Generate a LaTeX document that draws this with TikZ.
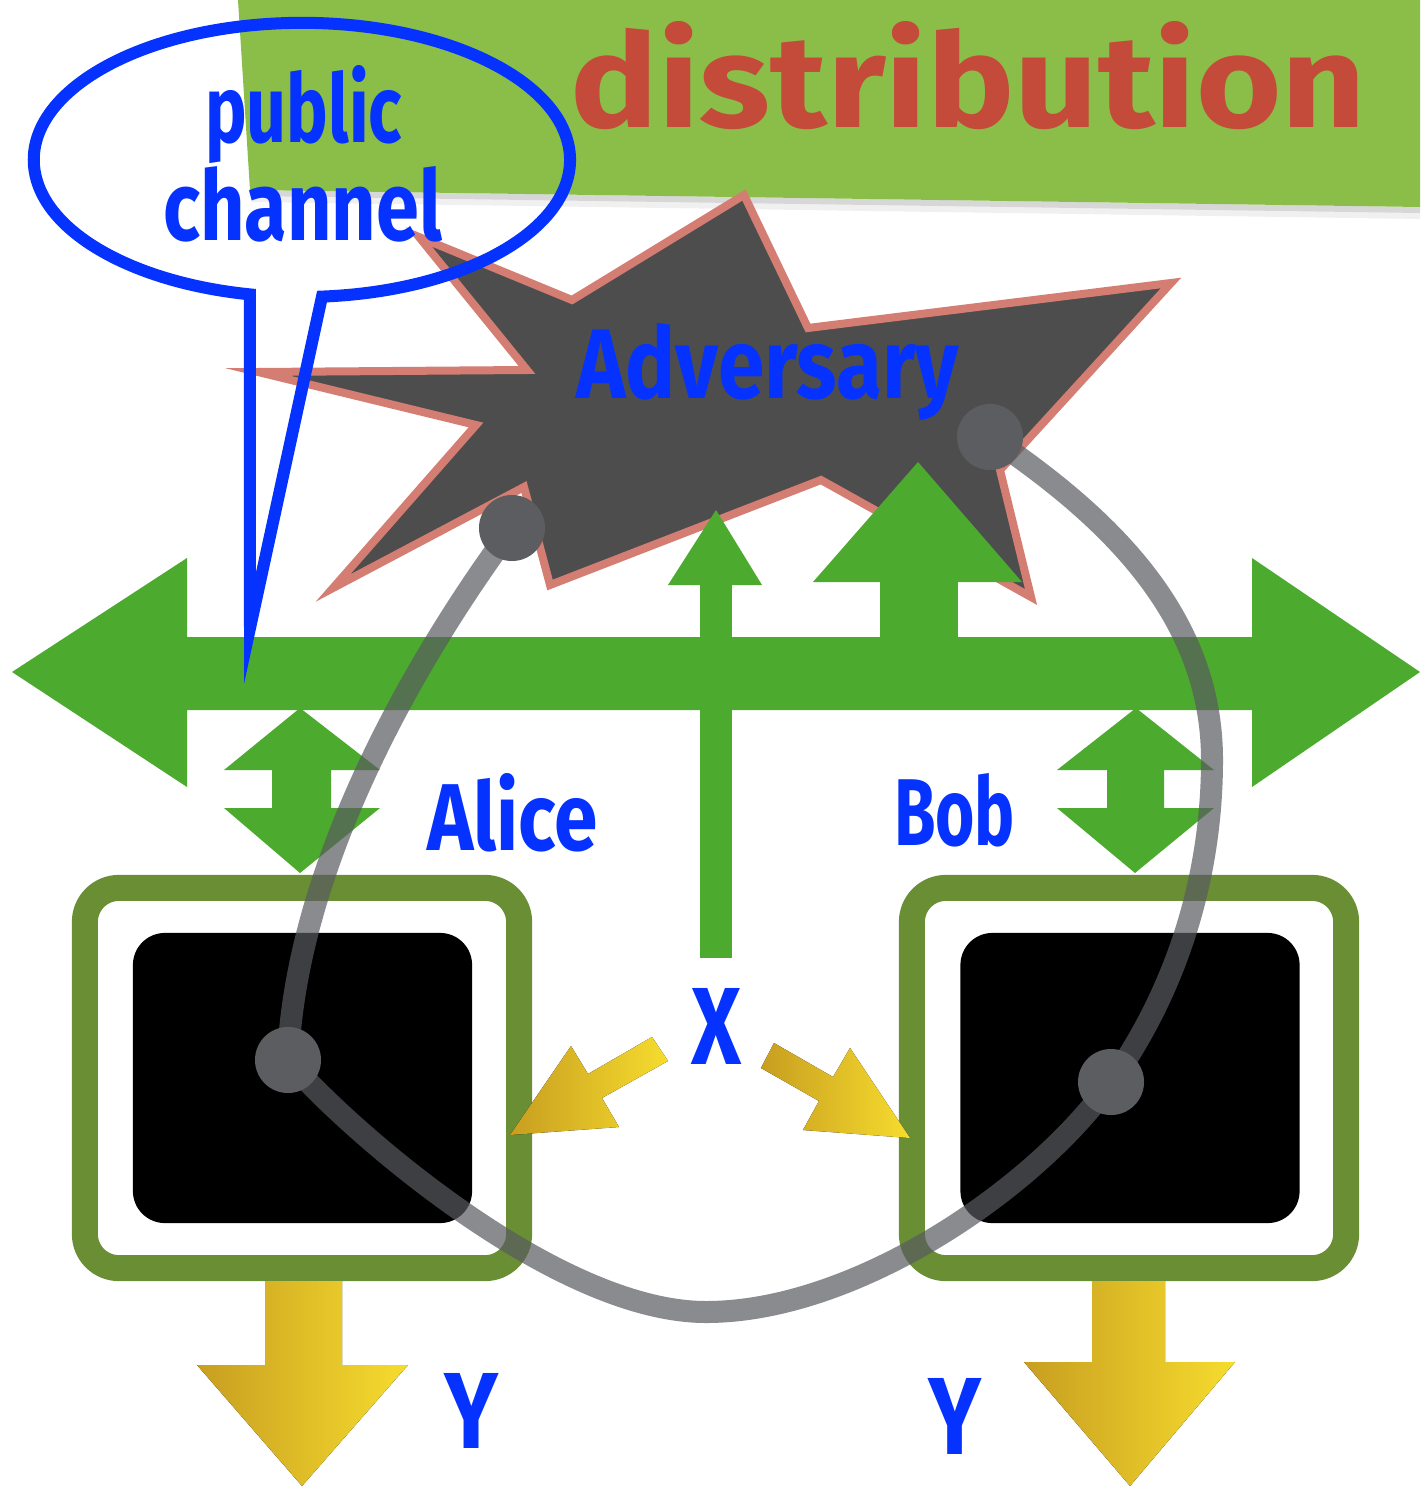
\documentclass[tikz,border=0pt]{standalone}
\usepackage{fontspec}
\newfontfamily\handfont{Fira Sans}
\newcommand\fitword[3]{\resizebox{#1cm}{#2cm}{\handfont\bfseries #3}}

\definecolor{bannergreen}{RGB}{138,190,72}
\definecolor{titlered}{RGB}{196,74,58}
\definecolor{inkblue}{RGB}{5,50,255}
\definecolor{chgreen}{RGB}{76,170,46}
\definecolor{boxolive}{RGB}{105,142,52}
\definecolor{stargray}{RGB}{77,77,77}
\definecolor{starrim}{RGB}{212,125,115}
\definecolor{loopgray}{RGB}{88,90,95}
\definecolor{dotgray}{RGB}{92,93,96}
\definecolor{ygold}{RGB}{200,158,32}
\definecolor{ylight}{RGB}{246,220,46}

\tikzset{
  greenshape/.style={fill=chgreen},
  yellowshape/.style={left color=ygold, right color=ylight},
  handtext/.style={inner sep=0pt, outer sep=0pt, anchor=base west, text=inkblue},
  frame/.style={draw=boxolive, line width=0.26cm, fill=white, rounded corners=0.34cm,
                inner sep=0pt, minimum width=4.34cm, minimum height=3.80cm},
  screen/.style={fill=black, rounded corners=0.32cm, inner sep=0pt,
                 minimum width=3.39cm, minimum height=2.90cm},
  loopdot/.style={circle, fill=dotgray, inner sep=0pt, minimum size=0.66cm},
  loopline/.style={draw=loopgray, draw opacity=0.7, line width=0.22cm, line cap=round},
  bubble/.style={draw=inkblue, line width=0.12cm, line join=miter},
}

\begin{document}
\begin{tikzpicture}[x=0.01cm,y=-0.01cm]
\useasboundingbox (0,0) rectangle (1420,1488);
\fill[white] (0,0) rectangle (1420,1488);

% title banner with a soft shadow under its lower edge
\fill[black, opacity=0.06] (250,190) -- (1420,207) -- (1420,219) -- (252,202) -- cycle;
\fill[black, opacity=0.10] (250,190) -- (1420,207) -- (1420,213) -- (251,196) -- cycle;
\fill[bannergreen] (238,0) -- (1420,0) -- (1420,207) -- (250,190) -- cycle;
\node[inner sep=0pt, anchor=base west, text=titlered] (title) at (570,128)
  {\fitword{7.95}{1.06}{distribution}};

% the adversary burst
\draw[fill=stargray, draw=starrim, line width=0.08cm, line join=miter]
  (1171,283) -- (1000,470) -- (1031,597) -- (821,480) -- (550,585) -- (524,487)
  -- (333,588) -- (476,425) -- (258,372) -- (527,370) -- (419,237) -- (572,300)
  -- (744,195) -- (808,328) -- cycle;

% public channel: double arrow with taps
\fill[greenshape] (12,672) -- (187,558) -- (187,637) -- (1252,637) -- (1252,558)
  -- (1420,672) -- (1252,787) -- (1252,710) -- (187,710) -- (187,787) -- cycle;
\fill[greenshape] (700,585) rectangle (732,958);
\fill[greenshape] (668,585) -- (716,510) -- (762,585) -- cycle;
\fill[greenshape] (880,580) rectangle (958,640);
\fill[greenshape] (813,582) -- (918,462) -- (1022,582) -- cycle;
\fill[greenshape] (224,770) -- (300,708) -- (380,770) -- (331,770) -- (331,808)
  -- (380,808) -- (300,873) -- (224,808) -- (272,808) -- (272,770) -- cycle;
\fill[greenshape] (1057,770) -- (1136,708) -- (1214,770) -- (1164,770) -- (1164,808)
  -- (1214,808) -- (1135,873) -- (1057,808) -- (1107,808) -- (1107,770) -- cycle;

% speech bubble
\draw[bubble] (250,628) -- (322,296.6)
  arc[start angle=274.3, end angle=618.8, x radius=2.68cm, y radius=1.37cm] -- cycle;

% Alice and Bob devices
\node[frame] (afr) at (302,1078) {};
\node[screen] (ascr) at (302.5,1078) {};
\node[frame] (bfr) at (1129,1078) {};
\node[screen] (bscr) at (1130,1078) {};

% outputs and inputs
\fill[yellowshape] (265,1281) -- (342,1281) -- (342,1365) -- (408,1365) -- (302,1486)
  -- (197,1365) -- (265,1365) -- cycle;
\fill[yellowshape] (1092,1281) -- (1165,1281) -- (1165,1362) -- (1235,1362) -- (1130,1486)
  -- (1024,1362) -- (1092,1362) -- cycle;
\fill[yellowshape] (652,1037) -- (588,1074) -- (571,1046) -- (510,1135) -- (619,1127)
  -- (602,1098) -- (668,1061) -- cycle;
\fill[yellowshape] (774,1043) -- (833,1077) -- (850,1048) -- (910,1138) -- (803,1130)
  -- (819,1101) -- (761,1068) -- cycle;

% loop through the parties
\coordinate (d1) at (512,528);
\coordinate (d2) at (990,437);
\coordinate (d3) at (288,1060);
\coordinate (d4) at (1111,1082);
\draw[loopline] (d2) .. controls (1115,521) and (1212,620) .. (1212,760)
  .. controls (1212,880) and (1175,992) .. (d4)
  .. controls (1036,1188) and (856,1312) .. (706,1312)
  .. controls (556,1312) and (348,1130) .. (d3)
  .. controls (295,880) and (400,680) .. (d1);
\node[loopdot] (p1) at (d1) {};
\node[loopdot] (p2) at (d2) {};
\node[loopdot] (p3) at (d3) {};
\node[loopdot] (p4) at (d4) {};

% labels
\node[handtext] (pub) at (205,143) {\fitword{1.97}{0.77}{public}};
\node[handtext] (chan) at (163,240) {\fitword{2.79}{0.74}{channel}};
\node[handtext] (adv) at (576,398) {\fitword{3.83}{0.75}{Adversary}};
\node[handtext] (alice) at (427,850) {\fitword{1.71}{0.77}{Alice}};
\node[handtext] (bob) at (894,845) {\fitword{1.21}{0.72}{Bob}};
\node[handtext] (xin) at (691,1064) {\fitword{0.50}{0.76}{X}};
\node[handtext] (ya) at (444,1448) {\fitword{0.54}{0.75}{Y}};
\node[handtext] (yb) at (928,1454) {\fitword{0.53}{0.76}{Y}};
\end{tikzpicture}
\end{document}
